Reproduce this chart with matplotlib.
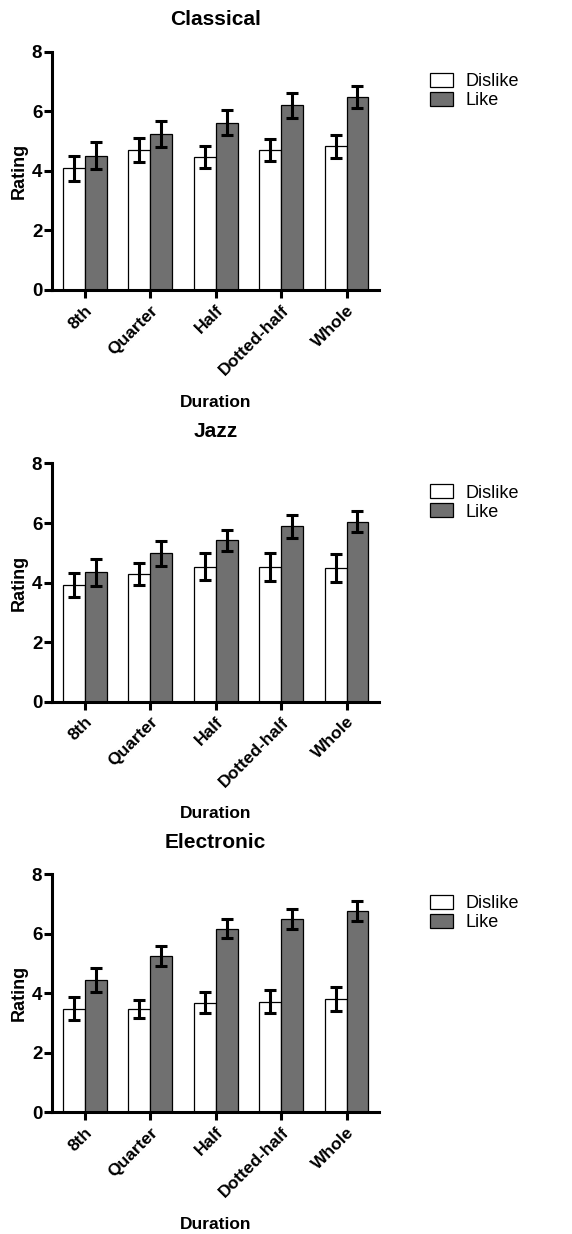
import numpy as np
import matplotlib
matplotlib.use("Agg")
import matplotlib.pyplot as plt

plt.rcParams["font.family"] = ["Liberation Sans", "DejaVu Sans"]

durations = ["8th", "Quarter", "Half", "Dotted-half", "Whole"]
genres = ["Classical", "Jazz", "Electronic"]

# mean ratings and SEM per genre, dislike vs like
dislike_mean = {
    "Classical": [4.09, 4.71, 4.46, 4.71, 4.82],
    "Jazz": [3.92, 4.29, 4.53, 4.51, 4.49],
    "Electronic": [3.48, 3.47, 3.68, 3.71, 3.81],
}
dislike_err = {
    "Classical": [0.42, 0.40, 0.36, 0.37, 0.37],
    "Jazz": [0.41, 0.38, 0.45, 0.47, 0.47],
    "Electronic": [0.39, 0.31, 0.35, 0.39, 0.40],
}
like_mean = {
    "Classical": [4.51, 5.23, 5.62, 6.21, 6.49],
    "Jazz": [4.35, 4.98, 5.42, 5.89, 6.05],
    "Electronic": [4.44, 5.26, 6.17, 6.50, 6.77],
}
like_err = {
    "Classical": [0.46, 0.43, 0.43, 0.42, 0.37],
    "Jazz": [0.45, 0.42, 0.36, 0.38, 0.36],
    "Electronic": [0.41, 0.33, 0.33, 0.33, 0.33],
}

fig = plt.figure(figsize=(5.72, 12.34), dpi=100)
bottoms = [0.765, 0.4314, 0.0986]
x = np.arange(len(durations))
w = 0.335
err_kw = dict(ecolor="black", elinewidth=2.2, capsize=4.5, capthick=2.2)

for genre, b in zip(genres, bottoms):
    ax = fig.add_axes([0.091, b, 0.572, 0.193])
    h1 = ax.bar(x - w / 2, dislike_mean[genre], w, yerr=dislike_err[genre],
                color="white", edgecolor="black", linewidth=0.9,
                error_kw=err_kw, label="Dislike")
    h2 = ax.bar(x + w / 2, like_mean[genre], w, yerr=like_err[genre],
                color="#707070", edgecolor="black", linewidth=0.9,
                error_kw=err_kw, label="Like")
    ax.set_xlim(-0.5, 4.5)
    ax.set_ylim(0, 8)
    ax.set_yticks([0, 2, 4, 6, 8])
    ax.set_xticks(x)
    ax.set_xticklabels(durations, rotation=45, ha="right",
                       rotation_mode="anchor", fontweight="bold", fontsize=12.5)
    for lab in ax.get_yticklabels():
        lab.set_fontweight("bold")
        lab.set_fontsize(13.5)
    ax.spines["top"].set_visible(False)
    ax.spines["right"].set_visible(False)
    ax.spines["left"].set_linewidth(2.2)
    ax.spines["bottom"].set_linewidth(2.2)
    ax.tick_params(axis="both", width=2.2, length=6, pad=1)
    ax.tick_params(axis="x", pad=3)
    ax.set_ylabel("Rating", fontweight="bold", fontsize=13, labelpad=3)
    ax.set_xlabel("Duration", fontweight="bold", fontsize=12.5, labelpad=12)
    ax.set_title(genre, fontweight="bold", fontsize=15, pad=19)
    ax.legend(handles=[h1, h2], loc="upper left", bbox_to_anchor=(1.154, 0.912),
              frameon=False, fontsize=13, handlelength=1.3, handleheight=0.8,
              handletextpad=0.7, labelspacing=0.1, borderpad=0,
              borderaxespad=0)

fig.savefig("out.png", dpi=100)
